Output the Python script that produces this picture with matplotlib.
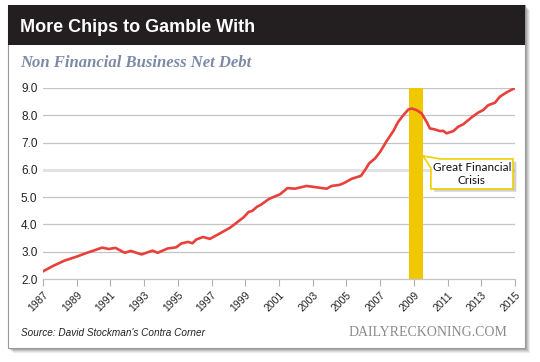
import matplotlib
matplotlib.use("Agg")
import matplotlib.pyplot as plt
from matplotlib.patches import Rectangle, Polygon

# ---- data ----
years = [1987.0, 1987.6, 1988.3, 1989.0, 1989.6, 1990.0, 1990.5, 1990.9, 1991.3,
         1991.85, 1992.2, 1992.85, 1993.5, 1993.8, 1994.4, 1994.9, 1995.2, 1995.6,
         1995.86, 1996.1, 1996.5, 1996.9, 1997.4, 1998.1, 1998.6, 1998.9, 1999.2,
         1999.4, 1999.7, 1999.9, 2000.4, 2000.8, 2001.05, 2001.5, 2001.95, 2002.64,
         2003.23, 2003.83, 2004.12, 2004.6, 2004.9, 2005.3, 2005.86, 2006.1, 2006.35,
         2006.7, 2007.0, 2007.38, 2007.78, 2008.07, 2008.37, 2008.67, 2008.87,
         2009.16, 2009.46, 2009.76, 2009.95, 2010.25, 2010.55, 2010.74, 2010.94,
         2011.34, 2011.63, 2011.93, 2012.42, 2012.82, 2013.11, 2013.41, 2013.81,
         2014.1, 2014.5, 2015.0]
debt = [2.28, 2.48, 2.68, 2.82, 2.96, 3.04, 3.15, 3.10, 3.14,
        2.96, 3.03, 2.90, 3.04, 2.96, 3.12, 3.16, 3.30, 3.36,
        3.31, 3.45, 3.54, 3.47, 3.64, 3.88, 4.12, 4.26, 4.46,
        4.49, 4.65, 4.71, 4.93, 5.04, 5.10, 5.33, 5.31, 5.41,
        5.36, 5.31, 5.41, 5.45, 5.53, 5.67, 5.78, 5.99, 6.24,
        6.42, 6.66, 7.05, 7.42, 7.76, 8.00, 8.21, 8.25,
        8.19, 8.07, 7.76, 7.52, 7.48, 7.42, 7.43, 7.34,
        7.42, 7.58, 7.67, 7.92, 8.10, 8.19, 8.37, 8.46,
        8.68, 8.84, 9.00]
yticks = [2, 3, 4, 5, 6, 7, 8, 9]
xticks = list(range(1987, 2016, 2))
crisis = (2008.7, 2009.55)

title = "More Chips to Gamble With"
subtitle = "Non Financial Business Net Debt"
source = "Source: David Stockman's Contra Corner"
brand = "DAILYRECKONING.COM"
callout = "Great Financial\nCrisis"

W, H = 540, 362
fig = plt.figure(figsize=(W / 100, H / 100), dpi=100)
fig.patch.set_facecolor("white")

# background axes in pixel coordinates
bg = fig.add_axes([0, 0, 1, 1], zorder=0)
bg.set_xlim(0, W)
bg.set_ylim(H, 0)
bg.axis("off")

# card shadow
for i, a in enumerate([0.10, 0.12, 0.16, 0.22]):
    off = 5 - i
    bg.add_patch(Rectangle((8 + off, 5 + off), 517, 343, facecolor="#555555",
                           alpha=a, edgecolor="none"))
bg.add_patch(Rectangle((8, 5), 517, 343, facecolor="white", edgecolor="#9a9a9a", lw=0.8))
bg.add_patch(Rectangle((8, 5), 517, 40, facecolor="#231f20", edgecolor="none"))

bg.text(20, 27, title, color="white", fontsize=13, fontweight="bold",
        family="Liberation Sans", va="center", ha="left")
bg.text(20, 63, subtitle, color="#7d8aa6", fontsize=12, fontweight="bold",
        style="italic", family="Liberation Serif", va="center", ha="left")
bg.text(21, 333, source, color="#222222", fontsize=7.2, style="italic",
        family="Liberation Sans", va="center", ha="left")
bg.text(507, 333, brand, color="#8a8a8a", fontsize=10, family="Liberation Serif",
        va="center", ha="right")

# plot axes
ax = fig.add_axes([43 / W, 1 - 279 / H, (515 - 43) / W, (279 - 88) / H], zorder=1)
ax.set_facecolor("none")
ax.set_xlim(1987, 2015)
ax.set_ylim(2, 9)

for v in yticks[1:]:
    if v == 6:
        ax.axhline(v, color="#e2e2e2", lw=2.2, zorder=1)
    else:
        ax.axhline(v, color="#c4c4c4", lw=0.9, zorder=1)

ax.axvspan(crisis[0], crisis[1], color="#f0c800", lw=0, zorder=2)
ax.plot(years, debt, color="#e8403a", lw=1.9, zorder=3, solid_joinstyle="round")

for s in ["top", "right", "left"]:
    ax.spines[s].set_visible(False)
ax.spines["bottom"].set_color("#c4c4c4")
ax.spines["bottom"].set_linewidth(0.9)

ax.set_yticks(yticks)
ax.set_yticklabels([f"{v:.1f}" for v in yticks], fontsize=8.5, color="#222222",
                   family="Liberation Sans")
ax.tick_params(axis="y", length=0, pad=4)
ax.set_xticks(xticks)
ax.set_xticklabels([str(y) for y in xticks], rotation=45, ha="right",
                   rotation_mode="anchor", fontsize=7.5, color="#222222",
                   family="Liberation Sans")
ax.tick_params(axis="x", length=5, width=0.8, color="#b0b0b0", pad=3)

# callout box with pointer (data coordinates)
tip_x, tip_y = crisis[1], 6.51
bx0, bx1, by0, by1 = 2010.01, 2014.88, 5.30, 6.40
poly = [(tip_x, tip_y), (bx0 + 0.55, by1), (bx1, by1), (bx1, by0), (bx0, by0), (bx0, 6.07)]
shadow = [(x + 0.2, y - 0.1) for x, y in poly]
ax.add_patch(Polygon(shadow, closed=True, facecolor="#444444", alpha=0.25,
                     edgecolor="none", clip_on=False, zorder=4))
ax.add_patch(Polygon(poly, closed=True, facecolor="white", edgecolor="#f0d000",
                     lw=1.2, clip_on=False, zorder=5))
ax.text((bx0 + bx1) / 2, (by0 + by1) / 2, callout, ha="center", va="center",
        fontsize=8.5, color="#111111", family="Lato", zorder=6, linespacing=1.15)

fig.savefig("out.png", dpi=100)
